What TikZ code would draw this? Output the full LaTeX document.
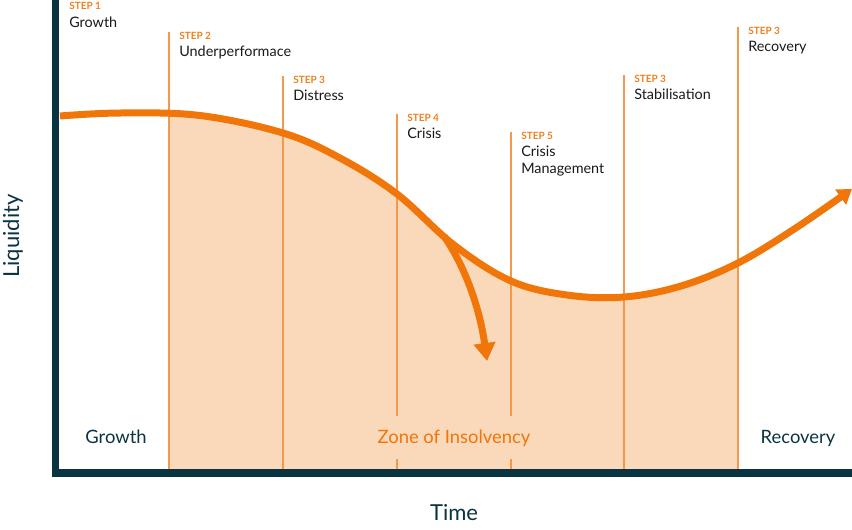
\documentclass[tikz,border=0pt]{standalone}
\usepackage{fontspec}
\setmainfont{Lato}
\usetikzlibrary{arrows.meta}
\definecolor{axisteal}{RGB}{11,52,66}
\definecolor{curveorange}{RGB}{240,118,10}
\definecolor{zonefill}{RGB}{250,216,186}
\definecolor{lineorange}{RGB}{244,152,75}
\definecolor{steporange}{RGB}{240,128,30}
\definecolor{labelblack}{RGB}{25,25,25}
\tikzset{
  stepline/.style={line width=1.1pt, color=lineorange},
  steptag/.style={anchor=base west, inner sep=0pt, text=steporange, font=\fontsize{7.5}{9}\selectfont\bfseries},
  stepname/.style={anchor=base west, inner sep=0pt, text=labelblack, font=\fontsize{10.8}{12.75}\selectfont},
  phasetag/.style={anchor=base, inner sep=0pt, text=axisteal, font=\fontsize{13.8}{16}\selectfont},
  axistag/.style={inner sep=0pt, text=axisteal, font=\fontsize{16.5}{19}\selectfont},
  liquidity/.style={line width=5.25pt, color=curveorange}
}
\def\stepmark(#1,#2)#3#4#5{%
  \draw[stepline] (#1,#2) -- (#1,469);
  \node[steptag] (tag#3) at (#1+10,#2+7.5) {#4};
  \node[stepname] (name#3) at (#1+10,#2+24.5) {#5};}

\begin{document}
\begin{tikzpicture}[x=0.75pt, y=-0.75pt]
  %%%%% START %%%%%
  \useasboundingbox (0,0) rectangle (852,529);

  % zone under the curve
  \begin{scope}
    \clip (169,0) rectangle (738,469);
    \fill[zonefill] plot[smooth, tension=0.6] coordinates {(60,116) (120,113) (200,115.5) (283,133) (340,158) (397,194) (454,245) (511,281) (567,295) (624,297) (681,286) (738,263) (795,228.5) (852,189)} -- (852,469) -- (60,469) -- cycle;
  \end{scope}

  % steps
  \node[steptag] (tag1) at (69,9) {STEP 1};
  \node[stepname] (name1) at (69,27) {Growth};
  \stepmark(169,32){2}{STEP 2}{Underperformace}
  \stepmark(283,76){3}{STEP 3}{Distress}
  \stepmark(397,114){4}{STEP 4}{Crisis}
  \stepmark(511,132){5}{STEP 5}{\begin{tabular}[t]{@{}l@{}}Crisis\\Management\end{tabular}}
  \stepmark(624,75){6}{STEP 3}{Stabilisation}
  \stepmark(738,27){7}{STEP 3}{Recovery}

  % phases
  \node[phasetag] (growth) at (116,443) {Growth};
  \node[phasetag, text=curveorange, fill=zonefill, inner xsep=2pt, inner ysep=9.75pt] (zone) at (454,443) {Zone of Insolvency};
  \node[phasetag] (recovery) at (798,443) {Recovery};

  % axes
  \draw[line width=5.6pt, color=axisteal] (55.75,0) |- (852,473);
  \node[axistag, rotate=90] (ylabel) at (13,236) {Liquidity};
  \node[axistag, anchor=base] (xlabel) at (454,520) {Time};

  % liquidity curve
  \draw[liquidity, -{Triangle[length=10.5pt, width=13.5pt]}] plot[smooth, tension=0.6] coordinates {(60,116) (120,113) (200,115.5) (283,133) (340,158) (397,194) (454,245) (511,281) (567,295) (624,297) (681,286) (738,263) (795,228.5) (852,189)};
  \coordinate (split) at (444,236);
  \draw[liquidity, -{Triangle[length=13.5pt, width=15.75pt]}] (split) .. controls (466,268) and (480,310) .. (487,361);
  %%%%% END %%%%%
\end{tikzpicture}
\end{document}
